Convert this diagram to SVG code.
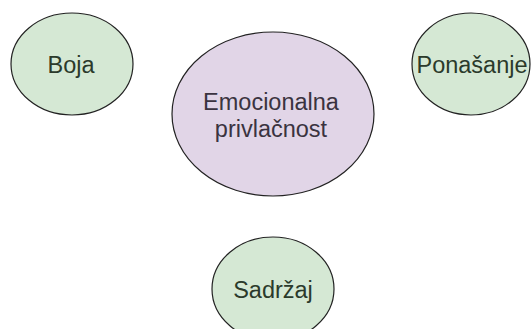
<svg xmlns="http://www.w3.org/2000/svg" width="531" height="329" viewBox="0 0 531 329">
<style>
.n{stroke:#222;stroke-width:1.2}
.g{fill:#d5e8d4}
.p{fill:#e1d5e7}
text{font-family:"Liberation Sans",Arial,sans-serif;font-size:23.5px;text-anchor:middle}
.tg{fill:#2b3a2b}
.tp{fill:#3a3340}
</style>
<rect width="531" height="329" fill="#ffffff"/>
<g id="connectors"></g>
<g id="boja"><ellipse class="n g" cx="72" cy="64" rx="61" ry="51"/><text class="tg" x="71" y="73">Boja</text></g>
<g id="emocionalna"><ellipse class="n p" cx="273" cy="114" rx="101" ry="82"/><text class="tp" x="271" y="110">Emocionalna</text><text class="tp" x="271" y="137">privlačnost</text></g>
<g id="ponasanje"><ellipse class="n g" cx="471" cy="64" rx="59" ry="51"/><text class="tg" x="472" y="73">Ponašanje</text></g>
<g id="sadrzaj"><ellipse class="n g" cx="273" cy="289" rx="61" ry="52"/><text class="tg" x="273" y="298">Sadržaj</text></g>
</svg>
